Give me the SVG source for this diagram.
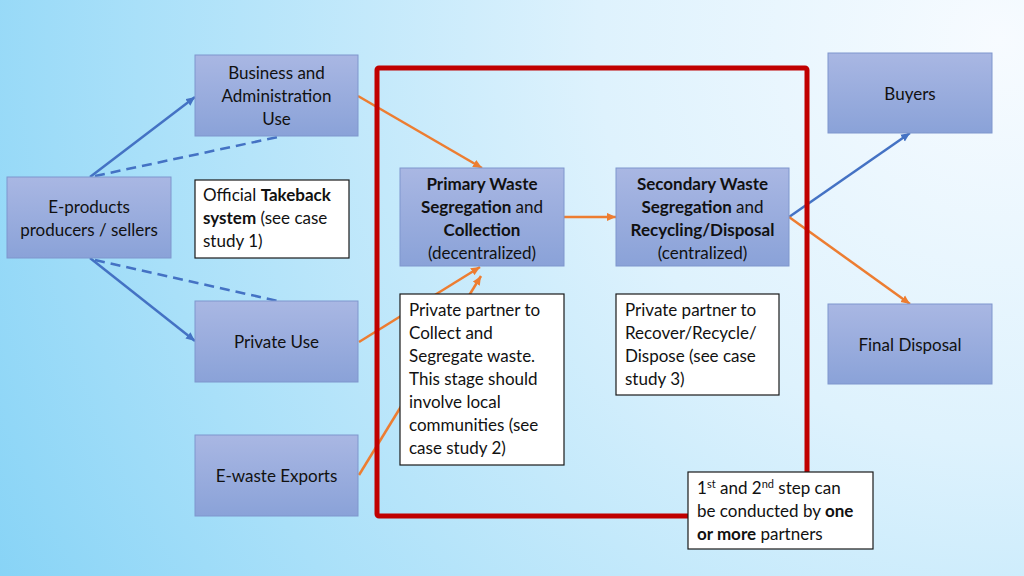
<svg xmlns="http://www.w3.org/2000/svg" width="1024" height="576" viewBox="0 0 1024 576">
<defs>
<radialGradient id="bg" cx="1000" cy="40" r="1150" gradientUnits="userSpaceOnUse">
<stop offset="0" stop-color="#f7fbff"/>
<stop offset="0.35" stop-color="#def2fd"/>
<stop offset="0.75" stop-color="#a9e0f9"/>
<stop offset="1" stop-color="#86d3f6"/>
</radialGradient>
<linearGradient id="nodeFill" x1="0" y1="0" x2="0" y2="1">
<stop offset="0" stop-color="#a9b7e3"/>
<stop offset="1" stop-color="#8aa2d8"/>
</linearGradient>
<marker id="arrO" markerUnits="userSpaceOnUse" markerWidth="9" markerHeight="9" viewBox="0 0 10 10" refX="10" refY="5" orient="auto">
<path d="M0,0.5 L10,5 L0,9.5 Z" fill="#ed7d31"/>
</marker>
<marker id="arrB" markerUnits="userSpaceOnUse" markerWidth="9" markerHeight="9" viewBox="0 0 10 10" refX="10" refY="5" orient="auto">
<path d="M0,0.5 L10,5 L0,9.5 Z" fill="#4472c4"/>
</marker>
</defs>
<style>
text { font-family: Lato, "Liberation Sans", sans-serif; font-size: 17px; fill: #111111; }
.c { text-anchor: middle; }
.b { font-weight: bold; }
.node { fill: url(#nodeFill); stroke: #7f96cd; stroke-width: 1; }
.note { fill: #ffffff; stroke: #1a1a1a; stroke-width: 1.2; }
.o { stroke: #ed7d31; stroke-width: 2.5; fill: none; }
.bl { stroke: #4472c4; stroke-width: 2.5; fill: none; }
.d { stroke-dasharray: 10 6; }
</style>
<rect width="1024" height="576" fill="url(#bg)"/>

<g id="connectors">
<line class="bl" x1="90" y1="177" x2="195" y2="97" marker-end="url(#arrB)"/>
<line class="bl d" x1="95" y1="176" x2="278" y2="137"/>
<line class="bl" x1="90" y1="258" x2="195" y2="341" marker-end="url(#arrB)"/>
<line class="bl d" x1="95" y1="260" x2="278" y2="301"/>
<line class="o" x1="358" y1="96" x2="482" y2="168" marker-end="url(#arrO)"/>
<line class="o" x1="564" y1="217" x2="616" y2="217" marker-end="url(#arrO)"/>
<line class="bl" x1="789" y1="217" x2="910" y2="133" marker-end="url(#arrB)"/>
<line class="o" x1="789" y1="217" x2="910" y2="304" marker-end="url(#arrO)"/>
<line class="o" x1="359" y1="342" x2="480" y2="267" marker-end="url(#arrO)"/>
<line class="o" x1="359" y1="475" x2="481" y2="276" marker-end="url(#arrO)"/>
</g>

<g id="boundary">
<rect x="377" y="68" width="430" height="448" rx="2" fill="none" stroke="#c00000" stroke-width="5"/>
</g>

<g id="business">
<rect class="node" x="195" y="55" width="163" height="81"/>
<text class="c" x="276.5" y="79">Business and</text>
<text class="c" x="276.5" y="102">Administration</text>
<text class="c" x="276.5" y="125">Use</text>
</g>

<g id="producers">
<rect class="node" x="7" y="177" width="164" height="81"/>
<text class="c" x="89" y="213">E-products</text>
<text class="c" x="89" y="236">producers / sellers</text>
</g>

<g id="takeback">
<rect class="note" x="195" y="180" width="154" height="78"/>
<text x="203" y="201">Official <tspan class="b">Takeback</tspan></text>
<text x="203" y="224"><tspan class="b">system</tspan> (see case</text>
<text x="203" y="247">study 1)</text>
</g>

<g id="primary">
<rect class="node" x="400" y="168" width="164" height="98"/>
<text class="c b" x="482" y="190">Primary Waste</text>
<text class="c" x="482" y="213"><tspan class="b">Segregation</tspan> and</text>
<text class="c b" x="482" y="236">Collection</text>
<text class="c" x="482" y="259">(decentralized)</text>
</g>

<g id="secondary">
<rect class="node" x="616" y="168" width="173" height="98"/>
<text class="c b" x="702.5" y="190">Secondary Waste</text>
<text class="c" x="702.5" y="213"><tspan class="b">Segregation</tspan> and</text>
<text class="c b" x="702.5" y="236">Recycling/Disposal</text>
<text class="c" x="702.5" y="259">(centralized)</text>
</g>

<g id="buyers">
<rect class="node" x="828" y="53" width="164" height="80"/>
<text class="c" x="910" y="100">Buyers</text>
</g>

<g id="finaldisposal">
<rect class="node" x="828" y="304" width="164" height="80"/>
<text class="c" x="910" y="351">Final Disposal</text>
</g>

<g id="privateuse">
<rect class="node" x="195" y="301" width="163" height="81"/>
<text class="c" x="276.5" y="348">Private Use</text>
</g>

<g id="exports">
<rect class="node" x="195" y="435" width="163" height="81"/>
<text class="c" x="276.5" y="482">E-waste Exports</text>
</g>

<g id="partner1">
<rect class="note" x="400" y="294" width="164" height="171"/>
<text x="409" y="316">Private partner to</text>
<text x="409" y="339">Collect and</text>
<text x="409" y="362">Segregate waste.</text>
<text x="409" y="385">This stage should</text>
<text x="409" y="408">involve local</text>
<text x="409" y="431">communities (see</text>
<text x="409" y="454">case study 2)</text>
</g>

<g id="partner2">
<rect class="note" x="616" y="294" width="163" height="101"/>
<text x="625" y="316">Private partner to</text>
<text x="625" y="339">Recover/Recycle/</text>
<text x="625" y="362">Dispose (see case</text>
<text x="625" y="385">study 3)</text>
</g>

<g id="stepsnote">
<rect class="note" x="688" y="472" width="185" height="77"/>
<text x="697" y="494">1<tspan font-size="11" dy="-6">st</tspan><tspan dy="6"> and 2</tspan><tspan font-size="11" dy="-6">nd</tspan><tspan dy="6"> step can</tspan></text>
<text x="697" y="517">be conducted by <tspan class="b">one</tspan></text>
<text x="697" y="540"><tspan class="b">or more</tspan> partners</text>
</g>
</svg>
